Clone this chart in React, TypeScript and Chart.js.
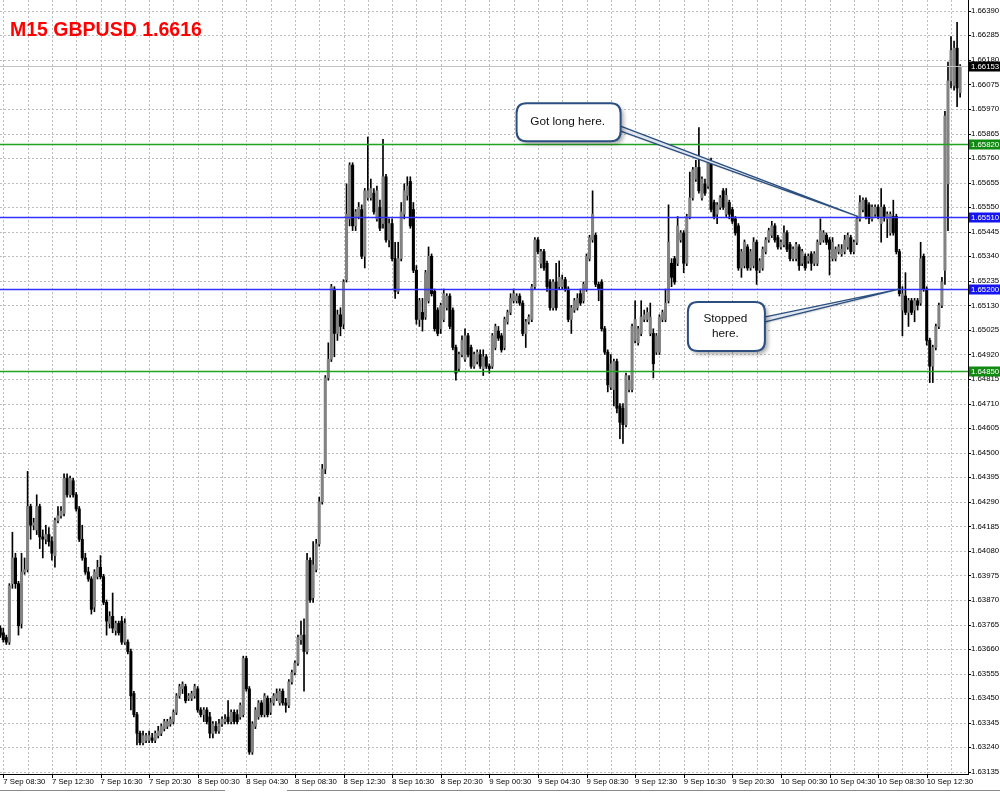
import React, { useEffect, useRef } from "react";
import { Chart, registerables } from "chart.js";

Chart.register(...registerables);

// ---- M15 GBPUSD candles (one per 15 minutes, first bar 7 Sep 08:15) ----
const OPEN = [
  1.6375,1.6373,1.6371,1.6369,1.6394,1.6405,1.6394,1.6377,1.6399,1.6400,
  1.6427,1.6419,1.6417,1.6427,1.6414,1.6413,1.6415,1.6412,1.6406,1.6421,
  1.6423,1.6424,1.6439,1.6432,1.6438,1.6432,1.6426,1.6413,1.6405,1.6399,
  1.6396,1.6384,1.6397,1.6401,1.6397,1.6386,1.6377,1.6380,1.6374,1.6377,
  1.6378,1.6369,1.6369,1.6365,1.6347,1.6338,1.6330,1.6326,1.6327,1.6327,
  1.6328,1.6327,1.6329,1.6330,1.6332,1.6333,1.6334,1.6335,1.6339,1.6346,
  1.6349,1.6350,1.6345,1.6345,1.6346,1.6349,1.6340,1.6338,1.6340,1.6337,
  1.6330,1.6333,1.6331,1.6334,1.6335,1.6337,1.6335,1.6339,1.6338,1.6337,
  1.6338,1.6362,1.6349,1.6322,1.6333,1.6337,1.6343,1.6338,1.6345,1.6339,
  1.6343,1.6345,1.6343,1.6348,1.6343,1.6342,1.6352,1.6356,1.6360,1.6370,
  1.6372,1.6365,1.6404,1.6388,1.6400,1.6411,1.6429,1.6443,1.6482,1.6490,
  1.6520,1.6501,1.6509,1.6505,1.6524,1.6550,1.6573,1.6547,1.6551,1.6554,
  1.6534,1.6559,1.6559,1.6561,1.6550,1.6555,1.6548,1.6568,1.6541,1.6548,
  1.6533,1.6519,1.6533,1.6552,1.6560,1.6566,1.6554,1.6528,1.6507,1.6510,
  1.6508,1.6515,1.6534,1.6519,1.6511,1.6503,1.6507,1.6512,1.6517,1.6511,
  1.6495,1.6486,1.6492,1.6490,1.6500,1.6495,1.6487,1.6489,1.6492,1.6486,
  1.6491,1.6487,1.6487,1.6495,1.6502,1.6500,1.6495,1.6506,1.6510,1.6515,
  1.6515,1.6517,1.6514,1.6501,1.6506,1.6507,1.6521,1.6541,1.6531,1.6536,
  1.6531,1.6523,1.6512,1.6523,1.6521,1.6521,1.6524,1.6520,1.6507,1.6511,
  1.6512,1.6518,1.6515,1.6520,1.6533,1.6541,1.6543,1.6522,1.6523,1.6503,
  1.6493,1.6478,1.6477,1.6489,1.6470,1.6469,1.6462,1.6477,1.6477,1.6498,
  1.6497,1.6501,1.6507,1.6507,1.6501,1.6501,1.6493,1.6493,1.6507,1.6507,
  1.6515,1.6531,1.6533,1.6531,1.6541,1.6544,1.6531,1.6551,1.6559,1.6567,
  1.6572,1.6559,1.6565,1.6564,1.6574,1.6557,1.6552,1.6555,1.6562,1.6552,
  1.6557,1.6554,1.6550,1.6547,1.6529,1.6530,1.6538,1.6529,1.6530,1.6540,
  1.6528,1.6529,1.6536,1.6541,1.6543,1.6547,1.6542,1.6538,1.6539,1.6544,
  1.6539,1.6533,1.6533,1.6538,1.6531,1.6534,1.6532,1.6535,1.6531,1.6531,
  1.6540,1.6541,1.6543,1.6541,1.6533,1.6533,1.6536,1.6535,1.6536,1.6538,
  1.6542,1.6536,1.6540,1.6550,1.6554,1.6558,1.6556,1.6550,1.6552,1.6555,
  1.6548,1.6555,1.6550,1.6544,1.6551,1.6551,1.6536,1.6511,1.6517,1.6510,
  1.6515,1.6511,1.6515,1.6514,1.6534,1.6520,1.6498,1.6487,1.6495,1.6504,
  1.6513,1.6528,1.6565,1.6609,1.6607,1.6623,1.6604,
];
const HIGH = [
  1.6376,1.6375,1.6372,1.6394,1.6416,1.6407,1.6395,1.6407,1.6405,1.6442,
  1.6428,1.6422,1.6432,1.6428,1.6417,1.6419,1.6418,1.6414,1.6422,1.6427,
  1.6427,1.6441,1.6441,1.6440,1.6439,1.6433,1.6427,1.6419,1.6407,1.6401,
  1.6397,1.6400,1.6404,1.6406,1.6398,1.6387,1.6382,1.6390,1.6378,1.6378,
  1.6380,1.6379,1.6370,1.6366,1.6348,1.6339,1.6331,1.6331,1.6330,1.6331,
  1.6330,1.6331,1.6333,1.6334,1.6336,1.6336,1.6337,1.6340,1.6347,1.6351,
  1.6352,1.6351,1.6347,1.6348,1.6351,1.6350,1.6341,1.6341,1.6341,1.6339,
  1.6335,1.6335,1.6336,1.6337,1.6338,1.6344,1.6340,1.6340,1.6340,1.6343,
  1.6363,1.6363,1.6350,1.6335,1.6341,1.6344,1.6344,1.6347,1.6346,1.6345,
  1.6347,1.6349,1.6349,1.6349,1.6345,1.6353,1.6357,1.6361,1.6372,1.6378,
  1.6379,1.6407,1.6405,1.6412,1.6413,1.6431,1.6445,1.6483,1.6497,1.6522,
  1.6521,1.6511,1.6512,1.6524,1.6565,1.6574,1.6574,1.6554,1.6557,1.6556,
  1.6563,1.6585,1.6567,1.6563,1.6564,1.6558,1.6584,1.6569,1.6550,1.6550,
  1.6540,1.6540,1.6557,1.6565,1.6568,1.6568,1.6557,1.6530,1.6516,1.6516,
  1.6528,1.6538,1.6535,1.6520,1.6512,1.6514,1.6520,1.6518,1.6518,1.6512,
  1.6496,1.6493,1.6500,1.6503,1.6501,1.6496,1.6493,1.6494,1.6494,1.6494,
  1.6492,1.6488,1.6501,1.6505,1.6504,1.6501,1.6508,1.6511,1.6518,1.6520,
  1.6518,1.6518,1.6515,1.6507,1.6509,1.6522,1.6542,1.6542,1.6537,1.6537,
  1.6532,1.6524,1.6524,1.6531,1.6532,1.6526,1.6525,1.6521,1.6513,1.6516,
  1.6518,1.6520,1.6523,1.6535,1.6543,1.6562,1.6544,1.6523,1.6524,1.6504,
  1.6494,1.6492,1.6490,1.6490,1.6471,1.6471,1.6484,1.6483,1.6505,1.6515,
  1.6504,1.6515,1.6511,1.6512,1.6514,1.6503,1.6501,1.6509,1.6511,1.6520,
  1.6556,1.6533,1.6534,1.6551,1.6545,1.6545,1.6552,1.6570,1.6572,1.6575,
  1.6589,1.6568,1.6567,1.6575,1.6576,1.6558,1.6557,1.6560,1.6563,1.6563,
  1.6558,1.6555,1.6551,1.6548,1.6537,1.6541,1.6539,1.6537,1.6542,1.6541,
  1.6533,1.6538,1.6542,1.6546,1.6549,1.6548,1.6543,1.6541,1.6547,1.6545,
  1.6540,1.6538,1.6540,1.6539,1.6537,1.6535,1.6535,1.6536,1.6536,1.6541,
  1.6550,1.6545,1.6544,1.6542,1.6542,1.6538,1.6539,1.6539,1.6543,1.6544,
  1.6543,1.6541,1.6551,1.6560,1.6559,1.6559,1.6557,1.6556,1.6556,1.6556,
  1.6563,1.6556,1.6553,1.6553,1.6558,1.6552,1.6537,1.6521,1.6527,1.6516,
  1.6516,1.6516,1.6516,1.6540,1.6535,1.6521,1.6499,1.6496,1.6505,1.6514,
  1.6525,1.6596,1.6617,1.6628,1.6626,1.6634,1.6616,
];
const LOW = [
  1.6371,1.6369,1.6368,1.6368,1.6392,1.6392,1.6372,1.6375,1.6398,1.6399,
  1.6413,1.6417,1.6415,1.6409,1.6405,1.6411,1.6410,1.6404,1.6401,1.6420,
  1.6422,1.6423,1.6431,1.6431,1.6431,1.6425,1.6412,1.6404,1.6398,1.6395,
  1.6381,1.6382,1.6396,1.6396,1.6385,1.6372,1.6375,1.6373,1.6372,1.6372,
  1.6368,1.6368,1.6364,1.6340,1.6337,1.6325,1.6325,1.6325,1.6326,1.6326,
  1.6326,1.6326,1.6328,1.6329,1.6331,1.6332,1.6333,1.6334,1.6338,1.6345,
  1.6347,1.6343,1.6344,1.6344,1.6345,1.6339,1.6337,1.6335,1.6334,1.6328,
  1.6328,1.6330,1.6330,1.6333,1.6334,1.6334,1.6334,1.6334,1.6334,1.6336,
  1.6337,1.6348,1.6321,1.6321,1.6332,1.6336,1.6337,1.6337,1.6337,1.6338,
  1.6342,1.6344,1.6342,1.6342,1.6339,1.6341,1.6351,1.6355,1.6359,1.6368,
  1.6348,1.6364,1.6386,1.6386,1.6399,1.6410,1.6428,1.6441,1.6481,1.6489,
  1.6491,1.6498,1.6500,1.6503,1.6523,1.6547,1.6545,1.6545,1.6550,1.6533,
  1.6529,1.6558,1.6558,1.6552,1.6549,1.6545,1.6546,1.6540,1.6538,1.6532,
  1.6516,1.6518,1.6532,1.6550,1.6558,1.6546,1.6527,1.6505,1.6504,1.6502,
  1.6507,1.6514,1.6517,1.6502,1.6500,1.6501,1.6506,1.6511,1.6503,1.6494,
  1.6481,1.6485,1.6491,1.6489,1.6491,1.6486,1.6486,1.6488,1.6486,1.6483,
  1.6486,1.6484,1.6486,1.6494,1.6498,1.6493,1.6494,1.6505,1.6509,1.6514,
  1.6514,1.6513,1.6500,1.6495,1.6505,1.6506,1.6520,1.6535,1.6529,1.6528,
  1.6519,1.6511,1.6511,1.6511,1.6520,1.6520,1.6519,1.6506,1.6501,1.6510,
  1.6511,1.6513,1.6514,1.6519,1.6532,1.6540,1.6521,1.6515,1.6502,1.6492,
  1.6476,1.6477,1.6470,1.6467,1.6456,1.6454,1.6461,1.6476,1.6476,1.6497,
  1.6496,1.6500,1.6506,1.6506,1.6500,1.6482,1.6492,1.6492,1.6506,1.6506,
  1.6514,1.6521,1.6522,1.6530,1.6540,1.6527,1.6530,1.6550,1.6558,1.6566,
  1.6561,1.6558,1.6560,1.6563,1.6553,1.6550,1.6548,1.6554,1.6554,1.6551,
  1.6550,1.6548,1.6543,1.6528,1.6525,1.6529,1.6528,1.6528,1.6529,1.6522,
  1.6527,1.6528,1.6535,1.6540,1.6542,1.6540,1.6537,1.6537,1.6538,1.6536,
  1.6532,1.6532,1.6532,1.6528,1.6530,1.6528,1.6531,1.6528,1.6530,1.6530,
  1.6539,1.6540,1.6539,1.6526,1.6532,1.6532,1.6535,1.6534,1.6535,1.6537,
  1.6535,1.6535,1.6539,1.6549,1.6553,1.6550,1.6548,1.6549,1.6551,1.6550,
  1.6540,1.6549,1.6542,1.6543,1.6543,1.6535,1.6517,1.6500,1.6509,1.6504,
  1.6509,1.6506,1.6511,1.6513,1.6519,1.6496,1.6480,1.6480,1.6494,1.6503,
  1.6512,1.6522,1.6545,1.6606,1.6605,1.6598,1.6602,
];
const CLOSE = [
  1.6372,1.6370,1.6369,1.6393,1.6405,1.6394,1.6376,1.6399,1.6400,1.6427,
  1.6419,1.6420,1.6427,1.6414,1.6413,1.6415,1.6412,1.6407,1.6421,1.6423,
  1.6425,1.6439,1.6432,1.6439,1.6432,1.6426,1.6413,1.6405,1.6399,1.6396,
  1.6383,1.6399,1.6401,1.6397,1.6386,1.6378,1.6380,1.6375,1.6377,1.6373,
  1.6369,1.6377,1.6365,1.6346,1.6338,1.6330,1.6326,1.6329,1.6329,1.6329,
  1.6327,1.6330,1.6331,1.6333,1.6335,1.6335,1.6336,1.6339,1.6346,1.6350,
  1.6351,1.6344,1.6346,1.6347,1.6350,1.6340,1.6338,1.6340,1.6335,1.6330,
  1.6334,1.6331,1.6334,1.6336,1.6336,1.6335,1.6339,1.6335,1.6335,1.6342,
  1.6362,1.6349,1.6322,1.6334,1.6340,1.6343,1.6338,1.6346,1.6338,1.6343,
  1.6346,1.6347,1.6348,1.6343,1.6342,1.6352,1.6356,1.6360,1.6371,1.6372,
  1.6365,1.6404,1.6387,1.6402,1.6411,1.6429,1.6443,1.6482,1.6490,1.6521,
  1.6501,1.6509,1.6504,1.6523,1.6552,1.6573,1.6547,1.6553,1.6555,1.6534,
  1.6562,1.6562,1.6563,1.6553,1.6562,1.6546,1.6568,1.6541,1.6548,1.6533,
  1.6519,1.6533,1.6553,1.6562,1.6564,1.6547,1.6528,1.6507,1.6515,1.6507,
  1.6527,1.6534,1.6518,1.6503,1.6501,1.6513,1.6518,1.6517,1.6504,1.6495,
  1.6484,1.6492,1.6498,1.6500,1.6492,1.6487,1.6492,1.6493,1.6487,1.6491,
  1.6487,1.6486,1.6500,1.6504,1.6499,1.6494,1.6507,1.6510,1.6516,1.6518,
  1.6517,1.6514,1.6501,1.6506,1.6508,1.6521,1.6541,1.6536,1.6536,1.6529,
  1.6521,1.6512,1.6523,1.6512,1.6525,1.6524,1.6520,1.6507,1.6512,1.6515,
  1.6516,1.6514,1.6522,1.6534,1.6542,1.6552,1.6522,1.6520,1.6503,1.6493,
  1.6479,1.6488,1.6489,1.6469,1.6463,1.6462,1.6483,1.6481,1.6504,1.6507,
  1.6503,1.6508,1.6509,1.6510,1.6508,1.6488,1.6500,1.6508,1.6510,1.6514,
  1.6540,1.6525,1.6523,1.6547,1.6544,1.6531,1.6551,1.6559,1.6571,1.6572,
  1.6562,1.6567,1.6561,1.6574,1.6554,1.6551,1.6556,1.6559,1.6555,1.6560,
  1.6552,1.6549,1.6544,1.6529,1.6536,1.6540,1.6529,1.6536,1.6540,1.6528,
  1.6532,1.6537,1.6541,1.6545,1.6547,1.6541,1.6538,1.6540,1.6544,1.6537,
  1.6533,1.6537,1.6539,1.6530,1.6536,1.6529,1.6534,1.6531,1.6535,1.6540,
  1.6545,1.6544,1.6540,1.6537,1.6540,1.6537,1.6538,1.6537,1.6541,1.6543,
  1.6536,1.6540,1.6550,1.6557,1.6558,1.6551,1.6550,1.6555,1.6555,1.6551,
  1.6555,1.6551,1.6552,1.6552,1.6544,1.6536,1.6518,1.6518,1.6510,1.6515,
  1.6510,1.6515,1.6513,1.6533,1.6520,1.6498,1.6487,1.6495,1.6504,1.6513,
  1.6523,1.6594,1.6609,1.6622,1.6623,1.6606,1.66153,
];

// ---- time axis (bar index of each label) ----
const TIME_TICK_BARS = [1, 17, 33, 49, 65, 81, 97, 113, 129, 145, 161, 177, 193, 209, 225, 241, 257, 273, 289, 305];
const TIME_TICK_LABELS = [
  "7 Sep 08:30", "7 Sep 12:30", "7 Sep 16:30", "7 Sep 20:30",
  "8 Sep 00:30", "8 Sep 04:30", "8 Sep 08:30", "8 Sep 12:30", "8 Sep 16:30", "8 Sep 20:30",
  "9 Sep 00:30", "9 Sep 04:30", "9 Sep 08:30", "9 Sep 12:30", "9 Sep 16:30", "9 Sep 20:30",
  "10 Sep 00:30", "10 Sep 04:30", "10 Sep 08:30", "10 Sep 12:30",
];
const GRID_STEP_BARS = 8;

// ---- price axis ----
const PRICE_TICKS = [
  1.63135, 1.6324, 1.63345, 1.6345, 1.63555, 1.6366, 1.63765, 1.6387, 1.63975, 1.6408,
  1.64185, 1.6429, 1.64395, 1.645, 1.64605, 1.6471, 1.64815, 1.6492, 1.65025, 1.6513,
  1.65235, 1.6534, 1.65445, 1.6555, 1.65655, 1.6576, 1.65865, 1.6597, 1.66075, 1.6618,
  1.66285, 1.6639,
];
const PRICE_MIN = 1.63126;
const PRICE_MAX = 1.66436;
const BAR_MIN = -0.086;
const BAR_MAX = 318.59;

// ---- horizontal levels and bid ----
const LEVEL_PRICES = [1.6582, 1.6551, 1.652, 1.6485];
const LEVEL_KINDS = ["green", "blue", "blue", "green"];
const BID_PRICE = 1.66153;
const TITLE = "M15 GBPUSD 1.6616";

// ---- callouts ----
const NOTE_TEXTS = [["Got long here."], ["Stopped", "here."]];
const NOTE_BOX_BAR = [187.1, 239.05];
const NOTE_BOX_PRICE = [1.65913, 1.6504];
const NOTE_TIP_BAR = [282.5, 295.9];
const NOTE_TIP_PRICE = [1.6551, 1.652];

const COLORS: Record<string, { line: string; box: string }> = {
  green: { line: "#22a322", box: "#118a11" },
  blue: { line: "#3030ff", box: "#1414f0" },
};
const NOTE_BOX_SIZE = [[104, 38], [77, 49]];
const NOTE_BASE_DY = [[3, 8], [-9, -4]];

const TICK_FONT = '"Liberation Sans", Arial, sans-serif';
const TICK_SIZE = 7.8;

function roundRect(ctx: CanvasRenderingContext2D, x: number, y: number, w: number, h: number, r: number) {
  ctx.beginPath();
  ctx.moveTo(x + r, y);
  ctx.lineTo(x + w - r, y);
  ctx.quadraticCurveTo(x + w, y, x + w, y + r);
  ctx.lineTo(x + w, y + h - r);
  ctx.quadraticCurveTo(x + w, y + h, x + w - r, y + h);
  ctx.lineTo(x + r, y + h);
  ctx.quadraticCurveTo(x, y + h, x, y + h - r);
  ctx.lineTo(x, y + r);
  ctx.quadraticCurveTo(x, y, x + r, y);
  ctx.closePath();
}

const decorPlugin = {
  id: "mt4decor",
  beforeDatasetsDraw(chart: any) {
    const { ctx, chartArea: a, scales } = chart;
    const xs = scales.x;
    const ys = scales.y;
    ctx.save();
    ctx.strokeStyle = "#bdbdbd";
    ctx.lineWidth = 1;
    ctx.setLineDash([2, 2]);
    ctx.beginPath();
    for (const p of PRICE_TICKS) {
      const py = Math.round(ys.getPixelForValue(p)) + 0.5;
      ctx.moveTo(a.left, py);
      ctx.lineTo(a.right, py);
    }
    for (let b = TIME_TICK_BARS[0]; xs.getPixelForValue(b) < a.right - 2; b += GRID_STEP_BARS) {
      const px = Math.round(xs.getPixelForValue(b)) + 0.5;
      ctx.moveTo(px, a.top);
      ctx.lineTo(px, a.bottom);
    }
    ctx.stroke();
    ctx.restore();
  },
  afterDatasetsDraw(chart: any) {
    const { ctx, chartArea: a, scales } = chart;
    const ys = scales.y;
    ctx.save();
    ctx.setLineDash([]);
    ctx.lineWidth = 1;
    const by = Math.round(ys.getPixelForValue(BID_PRICE)) + 0.5;
    ctx.strokeStyle = "#c4c4c4";
    ctx.beginPath();
    ctx.moveTo(a.left, by);
    ctx.lineTo(a.right, by);
    ctx.stroke();
    ctx.lineWidth = 1.5;
    LEVEL_PRICES.forEach((p, i) => {
      const py = Math.round(ys.getPixelForValue(p)) + 0.5;
      ctx.strokeStyle = COLORS[LEVEL_KINDS[i]].line;
      ctx.beginPath();
      ctx.moveTo(a.left, py);
      ctx.lineTo(a.right, py);
      ctx.stroke();
    });
    ctx.restore();
  },
  afterDraw(chart: any) {
    const { ctx, chartArea: a, scales } = chart;
    const xs = scales.x;
    const ys = scales.y;
    ctx.save();
    ctx.strokeStyle = "#000";
    ctx.lineWidth = 1;
    ctx.beginPath();
    ctx.moveTo(a.right + 0.5, a.top);
    ctx.lineTo(a.right + 0.5, a.bottom + 1);
    ctx.moveTo(a.left, a.bottom + 0.5);
    ctx.lineTo(a.right + 1, a.bottom + 0.5);
    for (const p of PRICE_TICKS) {
      const py = Math.round(ys.getPixelForValue(p)) + 0.5;
      ctx.moveTo(a.right + 1, py);
      ctx.lineTo(a.right + 3, py);
    }
    for (const b of TIME_TICK_BARS) {
      const px = Math.round(xs.getPixelForValue(b)) + 0.5;
      ctx.moveTo(px, a.bottom + 1);
      ctx.lineTo(px, a.bottom + 4);
    }
    ctx.stroke();

    ctx.font = `${TICK_SIZE}px ${TICK_FONT}`;
    ctx.textBaseline = "middle";
    ctx.textAlign = "left";
    const boxes: [number, string][] = [[BID_PRICE, "#000000"]];
    LEVEL_PRICES.forEach((p, i) => boxes.push([p, COLORS[LEVEL_KINDS[i]].box]));
    for (const [p, c] of boxes) {
      const py = Math.round(ys.getPixelForValue(p)) + 0.5;
      ctx.fillStyle = c;
      ctx.fillRect(a.right + 1, py - 5, 32, 10);
      ctx.fillStyle = "#ffffff";
      ctx.fillText(p.toFixed(5), a.right + 3, py + 0.5);
    }

    ctx.font = `bold 19.5px "Liberation Sans", Arial, sans-serif`;
    ctx.fillStyle = "#ff0000";
    ctx.textAlign = "left";
    ctx.textBaseline = "alphabetic";
    ctx.fillText(TITLE, 10, 36);

    NOTE_TEXTS.forEach((lines, i) => {
      const cx = xs.getPixelForValue(NOTE_BOX_BAR[i]);
      const cy = ys.getPixelForValue(NOTE_BOX_PRICE[i]);
      const tx = xs.getPixelForValue(NOTE_TIP_BAR[i]);
      const ty = ys.getPixelForValue(NOTE_TIP_PRICE[i]);
      const [w, h] = NOTE_BOX_SIZE[i];
      const bx = cx - w / 2;
      const byy = cy - h / 2;
      const baseX = bx + w - 2;
      const [d0, d1] = NOTE_BASE_DY[i];
      ctx.save();
      ctx.shadowColor = "rgba(0,0,0,0.25)";
      ctx.shadowBlur = 2;
      ctx.shadowOffsetX = 1;
      ctx.shadowOffsetY = 1;
      ctx.beginPath();
      ctx.moveTo(baseX, cy + d0);
      ctx.lineTo(tx, ty);
      ctx.lineTo(baseX, cy + d1);
      ctx.closePath();
      ctx.fillStyle = "#dfe6ef";
      ctx.fill();
      ctx.restore();
      ctx.strokeStyle = "#2b4f80";
      ctx.lineWidth = 1.3;
      ctx.beginPath();
      ctx.moveTo(baseX, cy + d0);
      ctx.lineTo(tx, ty);
      ctx.lineTo(baseX, cy + d1);
      ctx.stroke();
      ctx.save();
      ctx.shadowColor = "rgba(0,0,0,0.35)";
      ctx.shadowBlur = 4;
      ctx.shadowOffsetX = 3;
      ctx.shadowOffsetY = 3;
      roundRect(ctx, bx, byy, w, h, 10);
      ctx.fillStyle = "#ffffff";
      ctx.fill();
      ctx.restore();
      roundRect(ctx, bx, byy, w, h, 10);
      ctx.strokeStyle = "#2b4f80";
      ctx.lineWidth = 2;
      ctx.stroke();
      ctx.fillStyle = "#111111";
      ctx.font = `11.8px "Liberation Sans", Arial, sans-serif`;
      ctx.textAlign = "center";
      ctx.textBaseline = "middle";
      const lh = 15;
      lines.forEach((t, k) => {
        ctx.fillText(t, cx - 1, cy + (k - (lines.length - 1) / 2) * lh - 0.5);
      });
    });

    ctx.strokeStyle = "#8a8a8a";
    ctx.lineWidth = 1;
    ctx.beginPath();
    ctx.moveTo(0, 790.5);
    ctx.lineTo(225, 790.5);
    ctx.moveTo(287, 790.5);
    ctx.lineTo(1000, 790.5);
    ctx.stroke();
    ctx.restore();
  },
};

export default function App() {
  const ref = useRef<HTMLCanvasElement | null>(null);
  useEffect(() => {
    document.body.style.margin = "0";
    const canvas = ref.current;
    if (!canvas) return;
    const idx = OPEN.map((_, i) => i);
    const wickData = idx.map((i) => ({ x: i, y: [LOW[i], HIGH[i]] }));
    const bodyData = idx.map((i) => ({ x: i, y: [Math.min(OPEN[i], CLOSE[i]), Math.max(OPEN[i], CLOSE[i])] }));
    const bodyColors = idx.map((i) => (CLOSE[i] >= OPEN[i] ? "#828282" : "#000000"));
    const chart = new Chart(canvas, {
      type: "bar",
      data: {
        datasets: [
          {
            label: "wick",
            data: wickData as any,
            backgroundColor: "#000000",
            barThickness: 1,
            grouped: false,
            order: 2,
          } as any,
          {
            label: "body",
            data: bodyData as any,
            backgroundColor: bodyColors,
            barThickness: 2.4,
            grouped: false,
            minBarLength: 1,
            order: 1,
          } as any,
        ],
      },
      options: {
        responsive: false,
        animation: false,
        events: [],
        layout: { padding: 0 },
        plugins: { legend: { display: false }, tooltip: { enabled: false }, title: { display: false } },
        scales: {
          x: {
            type: "linear",
            min: BAR_MIN,
            max: BAR_MAX,
            offset: false,
            grid: { display: false, drawTicks: false, offset: false },
            border: { display: false },
            afterBuildTicks: (s: any) => {
              s.ticks = TIME_TICK_BARS.map((v) => ({ value: v }));
            },
            afterFit: (s: any) => {
              s.height = 18;
              s.paddingLeft = 0;
              s.paddingRight = 0;
            },
            ticks: {
              autoSkip: false,
              maxRotation: 0,
              minRotation: 0,
              align: "start",
              padding: 3,
              color: "#000000",
              font: { family: TICK_FONT, size: TICK_SIZE },
              callback: (v: any) => {
                const k = TIME_TICK_BARS.indexOf(Number(v));
                return k >= 0 ? TIME_TICK_LABELS[k] : "";
              },
            },
          },
          y: {
            type: "linear",
            position: "right",
            min: PRICE_MIN,
            max: PRICE_MAX,
            beginAtZero: false,
            grid: { display: false, drawTicks: false },
            border: { display: false },
            afterBuildTicks: (s: any) => {
              s.ticks = PRICE_TICKS.map((v) => ({ value: v }));
            },
            afterFit: (s: any) => {
              s.width = 32;
              s.paddingTop = 0;
              s.paddingBottom = 0;
            },
            ticks: {
              autoSkip: false,
              padding: 3,
              color: "#000000",
              font: { family: TICK_FONT, size: TICK_SIZE },
              callback: (v: any) => Number(v).toFixed(5),
            },
          },
        },
      } as any,
      plugins: [decorPlugin as any],
    });
    return () => chart.destroy();
  }, []);
  return (
    <div style={{ width: 1000, height: 792, background: "#ffffff" }}>
      <canvas ref={ref} width={1000} height={792} style={{ display: "block" }} />
    </div>
  );
}
